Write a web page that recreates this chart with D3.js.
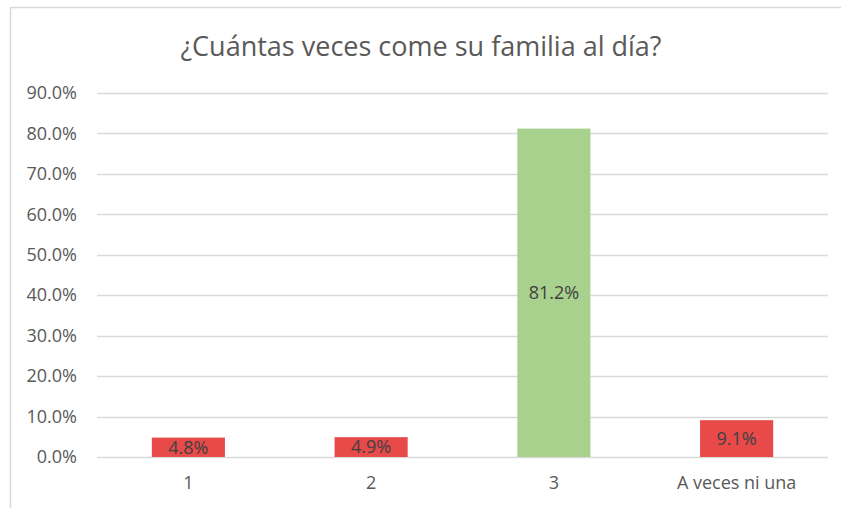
<!DOCTYPE html>
<html>
<head>
<meta charset="utf-8">
<script src="https://cdn.jsdelivr.net/npm/d3@7"></script>
<style>
	body { margin: 0; background: #fff; }
	svg { display: block; font-family: "Open Sans", "Noto Sans", sans-serif; }
</style>
</head>
<body>
<div id="chart"></div>
<script>
const title = '¿Cuántas veces come su familia al día?';
const categories = ['1', '2', '3', 'A veces ni una'];
const values = [4.8, 4.9, 81.2, 9.1];
const barColors = ['#e84a4a', '#e84a4a', '#a9d18e', '#e84a4a'];
const yTicks = [0, 10, 20, 30, 40, 50, 60, 70, 80, 90];

const width = 841;
const height = 508;
const plot = { left: 97, right: 828, top: 93, bottom: 457 };
const labelSize = 18;

const svg = d3.select('#chart')
	.append('svg')
	.attr('width', width)
	.attr('height', height);

// chart frame (right and bottom edges are cut off in the original)
svg.append('rect')
	.attr('x', 10.5)
	.attr('y', 7.5)
	.attr('width', 840)
	.attr('height', 510)
	.attr('fill', '#fff')
	.attr('stroke', '#d9d9d9')
	.attr('stroke-width', 1.5);

svg.append('text')
	.attr('x', 421)
	.attr('y', 56)
	.attr('text-anchor', 'middle')
	.attr('font-size', 27)
	.attr('fill', '#595959')
	.text(title);

const x = d3.scaleBand()
	.domain(categories)
	.range([plot.left, plot.right])
	.paddingInner(0.6)
	.paddingOuter(0.3);

const y = d3.scaleLinear()
	.domain([0, 90])
	.range([plot.bottom, plot.top]);

// gridlines
svg.append('g')
	.selectAll('line')
	.data(yTicks)
	.join('line')
	.attr('x1', plot.left)
	.attr('x2', plot.right)
	.attr('y1', (d) => Math.round(y(d)) + 0.5)
	.attr('y2', (d) => Math.round(y(d)) + 0.5)
	.attr('stroke', '#d9d9d9')
	.attr('stroke-width', 1.5);

// y axis labels
const yAxis = svg.append('g')
	.attr('transform', `translate(${plot.left - 20},0)`)
	.call(d3.axisLeft(y).tickValues(yTicks).tickSize(0).tickPadding(0)
		.tickFormat((d) => d3.format('.1f')(d) + '%'));
yAxis.select('.domain').remove();
yAxis.selectAll('text')
	.attr('font-size', labelSize)
	.attr('font-family', '"Open Sans", sans-serif')
	.attr('fill', '#595959');

// x axis labels
const xAxis = svg.append('g')
	.attr('transform', `translate(0,${plot.bottom + 19})`)
	.call(d3.axisBottom(x).tickSize(0).tickPadding(0));
xAxis.select('.domain').remove();
xAxis.selectAll('text')
	.attr('font-size', labelSize)
	.attr('font-family', '"Open Sans", sans-serif')
	.attr('fill', '#595959');

// bars
svg.append('g')
	.selectAll('rect')
	.data(values)
	.join('rect')
	.attr('x', (d, i) => x(categories[i]))
	.attr('y', (d) => y(d))
	.attr('width', x.bandwidth())
	.attr('height', (d) => y(0) - y(d))
	.attr('fill', (d, i) => barColors[i]);

// data labels, centred in the bars
svg.append('g')
	.selectAll('text')
	.data(values)
	.join('text')
	.attr('x', (d, i) => x(categories[i]) + x.bandwidth() / 2)
	.attr('y', (d) => (y(d) + y(0)) / 2)
	.attr('dy', '0.35em')
	.attr('text-anchor', 'middle')
	.attr('font-size', labelSize)
	.attr('fill', '#404040')
	.text((d) => d3.format('.1f')(d) + '%');
</script>
</body>
</html>
